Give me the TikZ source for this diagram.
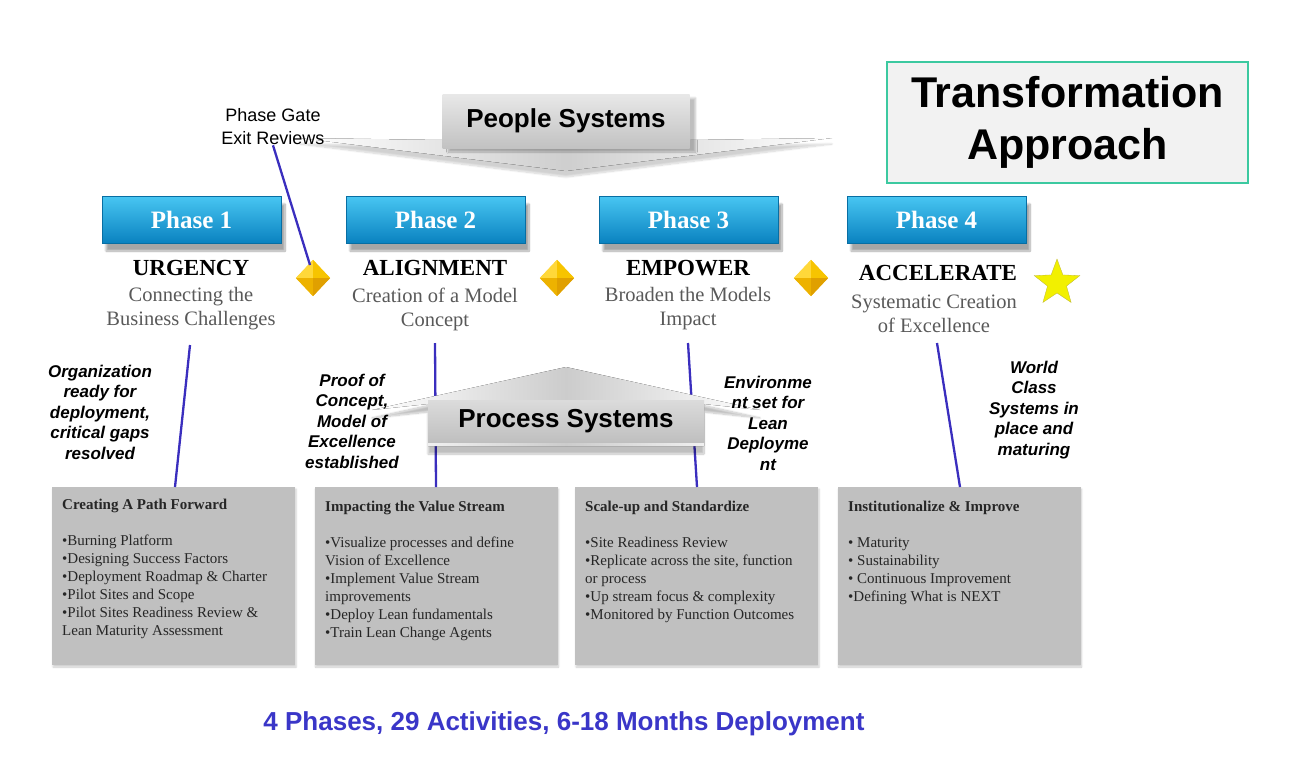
\documentclass[tikz,border=0pt]{standalone}
\usepackage{fontspec}
\setmainfont{Liberation Serif}
\setsansfont{Liberation Sans}
\usetikzlibrary{shadows.blur,shapes.geometric}
\definecolor{linecol}{HTML}{3A2EBE}
\definecolor{phtop}{HTML}{48C6F2}
\definecolor{phbot}{HTML}{0A82C0}
\definecolor{boxgray}{HTML}{C0C0C0}
\definecolor{subgray}{HTML}{595959}
\definecolor{bottomblue}{HTML}{3A36C8}
\definecolor{tealline}{HTML}{3CC9A0}
\definecolor{titlefill}{HTML}{F2F2F2}
\definecolor{goldA}{HTML}{FFD83A}
\definecolor{goldB}{HTML}{F7C400}
\definecolor{goldC}{HTML}{EDB200}
\definecolor{goldD}{HTML}{E0A000}
\definecolor{staryellow}{HTML}{F2F000}
\begin{document}
\begin{tikzpicture}[x=1pt,y=-1pt,
  link/.style={draw=linecol, line width=2.3pt},
  phasebox/.style={minimum width=179pt, minimum height=47pt, inner sep=0pt,
    top color=phtop, bottom color=phbot, draw=phbot!85!black, line width=0.4pt,
    text=white, font=\bfseries\fontsize{25}{29}\selectfont,
    blur shadow={shadow xshift=4pt, shadow yshift=-8pt, shadow opacity=35, shadow blur steps=10}},
  ttl/.style={font=\bfseries\fontsize{23}{27}\selectfont, inner sep=0pt},
  subt/.style={font=\fontsize{20.5}{24}\selectfont, text=subgray, align=center, inner sep=0pt},
  note/.style={font=\sffamily\bfseries\itshape\fontsize{17}{20.5}\selectfont, align=center, inner sep=0pt},
  graybox/.style={minimum width=243pt, minimum height=178pt, inner sep=0pt, fill=boxgray,
    blur shadow={shadow xshift=1pt, shadow yshift=-2pt, shadow opacity=20, shadow blur steps=5}},
  boxtext/.style={anchor=north west, font=\fontsize{15}{18}\selectfont, align=left, inner sep=0pt, text=black!85},
  gem/.style={diamond, minimum width=34pt, minimum height=36pt, inner sep=0pt, fill=goldB},
  sysbox/.style={inner sep=0pt, font=\sffamily\bfseries\fontsize{26}{30}\selectfont},
]
\useasboundingbox (0,0) rectangle (1298,774);

% ---------- People Systems (down arrow) ----------
\fill[left color=white, right color=white, middle color=gray!38,
  blur shadow={shadow xshift=0pt, shadow yshift=-6pt, shadow opacity=18, shadow blur steps=12}]
  (443,140) -- (300,138) -- (566,171) -- (832,138) -- (690,140) -- cycle;
\node[sysbox, minimum width=247pt, minimum height=54pt, top color=gray!18, bottom color=gray!48,
  blur shadow={shadow xshift=6pt, shadow yshift=-4pt, shadow opacity=25, shadow blur steps=10}]
  (people) at (566,121) {People Systems};

% ---------- Title box ----------
\node[draw=tealline, line width=1.4pt, fill=titlefill, minimum width=361pt, minimum height=121pt,
  align=center, font=\sffamily\bfseries\fontsize{43}{52}\selectfont, inner sep=0pt]
  (title) at (1067.5,122.5) {Transformation\\Approach};

% ---------- Phase gate label ----------
\node[font=\sffamily\fontsize{18}{23}\selectfont, align=center, inner sep=0pt]
  (pg) at (273,127) {Phase Gate\\Exit Reviews};

% ---------- Phase boxes ----------
\node[phasebox] (p1) at (191.5,219.5) {Phase 1};
\node[phasebox] (p2) at (435.5,219.5) {Phase 2};
\node[phasebox] (p3) at (688.5,219.5) {Phase 3};
\node[phasebox] (p4) at (936.5,219.5) {Phase 4};

% ---------- Titles ----------
\node[ttl] (t1) at (191,268) {URGENCY};
\node[ttl] (t2) at (435,268) {ALIGNMENT};
\node[ttl] (t3) at (688,268) {EMPOWER};
\node[ttl] (t4) at (938,273) {ACCELERATE};
\node[subt] (s1) at (191,309) {Connecting the\\Business Challenges};
\node[subt] (s2) at (435,309) {Creation of a Model\\Concept};
\node[subt] (s3) at (688,309) {Broaden the Models\\Impact};
\node[subt] (s4) at (934,314) {Systematic Creation\\of Excellence};

% ---------- Gems ----------
\foreach \n/\x in {d1/313, d2/557, d3/811}{
  \node[gem] (\n) at (\x,278) {};
  \fill[goldA] (\n.center) -- (\n.north) -- (\n.west) -- cycle;
  \fill[goldB] (\n.center) -- (\n.north) -- (\n.east) -- cycle;
  \fill[goldC] (\n.center) -- (\n.south) -- (\n.west) -- cycle;
  \fill[goldD] (\n.center) -- (\n.south) -- (\n.east) -- cycle;
}
\node[star, star points=5, star point ratio=2.4, minimum size=48pt, inner sep=0pt,
  fill=staryellow, draw=yellow!70!black, line width=0.3pt] (st) at (1057,283) {};

% ---------- Gray boxes ----------
\node[graybox] (b1) at (173.5,576) {};
\node[graybox] (b2) at (436,576) {};
\node[graybox] (b3) at (696.5,576) {};
\node[graybox] (b4) at (959,576) {};

\node[boxtext] (bt1) at (62,499) {\textbf{Creating A Path Forward}\\[18pt]
•Burning Platform\\
•Designing Success Factors\\
•Deployment Roadmap \& Charter\\
•Pilot Sites and Scope\\
•Pilot Sites Readiness Review \&\\
Lean Maturity Assessment};
\node[boxtext] (bt2) at (325,501) {\textbf{Impacting the Value Stream}\\[18pt]
•Visualize processes and define\\
Vision of Excellence\\
•Implement Value Stream\\
improvements\\
•Deploy Lean fundamentals\\
•Train Lean Change Agents};
\node[boxtext] (bt3) at (585,501) {\textbf{Scale-up and Standardize}\\[18pt]
•Site Readiness Review\\
•Replicate across the site, function\\
or process\\
•Up stream focus \& complexity\\
•Monitored by Function Outcomes};
\node[boxtext] (bt4) at (848,501) {\textbf{Institutionalize \& Improve}\\[18pt]
• Maturity\\
• Sustainability\\
• Continuous Improvement\\
•Defining What is NEXT};

% ---------- Connector lines ----------
\coordinate (g1) at (310,265);
\draw[link] (pg.south) -- (g1);
\coordinate (v1a) at (190,345); \coordinate (v1b) at (175,487);
\coordinate (v2a) at (435,343); \coordinate (v2b) at (436,487);
\coordinate (v3a) at (688,343); \coordinate (v3b) at (697,487);
\coordinate (v4a) at (937,343); \coordinate (v4b) at (960,487);
\draw[link] (v1a) -- (v1b);
\draw[link] (v2a) -- (v2b);
\draw[link] (v3a) -- (v3b);
\draw[link] (v4a) -- (v4b);

% ---------- Process Systems (up arrow) ----------
\fill[left color=white, right color=white, middle color=gray!40,
  blur shadow={shadow xshift=0pt, shadow yshift=-8pt, shadow opacity=25, shadow blur steps=12}]
  (566,367) -- (760,410) -- (704,404) -- (704,446) -- (428,446) -- (428,404) -- (372,410) -- cycle;
\node[sysbox, minimum width=276pt, minimum height=42pt, top color=gray!28, bottom color=gray!50]
  (process) at (566,421) {Process Systems};

% ---------- Notes ----------
\node[note] (n1) at (100,412) {Organization\\ready for\\deployment,\\critical gaps\\resolved};
\node[note] (n2) at (352,421) {Proof of\\Concept,\\Model of\\Excellence\\established};
\node[note] (n3) at (768,423) {Environme\\nt set for\\Lean\\Deployme\\nt};
\node[note] (n4) at (1034,410) {World\\Class\\Systems in\\place and\\maturing};

% ---------- Footer ----------
\node[font=\sffamily\bfseries\fontsize{26}{30}\selectfont, text=bottomblue, inner sep=0pt]
  (foot) at (564,724) {4 Phases, 29 Activities, 6-18 Months Deployment};
\end{tikzpicture}
\end{document}
